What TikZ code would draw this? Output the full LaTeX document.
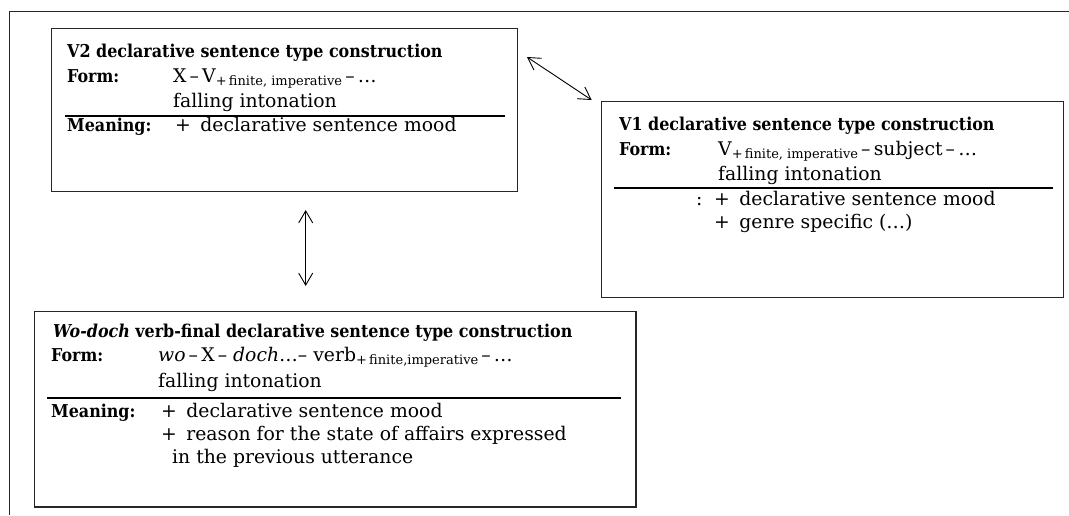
\documentclass[tikz,border=0pt]{standalone}
\usepackage{fontspec}
\setmainfont{DejaVu Serif}
\newfontfamily\hfont{DejaVu Serif Condensed}
\usetikzlibrary{arrows.meta,calc}
\newcommand\sbs[1]{\raisebox{-3pt}{\fontsize{13}{13}\selectfont #1}}
\tikzset{
  lbl/.style={anchor=base west, inner sep=0pt, font=\hfont\bfseries\fontsize{17.7}{20}\selectfont},
  txt/.style={anchor=base west, inner sep=0pt, font=\fontsize{18.8}{22}\selectfont},
  box/.style={draw=black!85, line width=1.1pt, inner sep=0pt, outer sep=0pt, anchor=north west},
  rulel/.style={line width=1.7pt},
  dbl/.style={{Straight Barb[length=12pt,width=14pt]}-{Straight Barb[length=12pt,width=14pt]}, line width=0.9pt},
  frame/.style={draw=black!85, line width=1pt}
}
\begin{document}
\begin{tikzpicture}[x=1pt,y=-1pt]
\useasboundingbox (0,0) rectangle (1069,515);
% open outer frame
\draw[frame] (1069,11) -- (9.3,11) -- (9.3,515);

% boxes
\node[box, minimum width=466pt, minimum height=163.4pt] (v2) at (51.7,28.3) {};
\node[box, minimum width=461.8pt, minimum height=196pt] (v1) at (601.7,101.7) {};
\node[box, minimum width=601.7pt, minimum height=195.3pt] (wd) at (34.3,311.7) {};

% separator rules
\draw[rulel] ([shift={(13.3,87.4)}]v2.north west) -- ([shift={(-12.7,87.4)}]v2.north east);
\draw[rulel] ([shift={(12.3,86)}]v1.north west) -- ([shift={(-10.5,86)}]v1.north east);
\draw[rulel] ([shift={(12.4,86)}]wd.north west) -- ([shift={(-15,86)}]wd.north east);

% V2 texts
\node[lbl] (v2t) at (67,57) {V2 declarative sentence type construction};
\node[lbl] (v2f) at (67,82) {Form:};
\node[txt] (v2fa) at (173,82) {X\,–\,V\sbs{+\,finite, imperative}\,–\,…};
\node[txt] (v2fb) at (173,107) {falling intonation};
\node[lbl] (v2m) at (67,131) {Meaning:};
\node[txt] (v2ma) at (175,131) {+\enspace declarative sentence mood};

% V1 texts
\node[lbl] (v1t) at (619,130) {V1 declarative sentence type construction};
\node[lbl] (v1f) at (619,155) {Form:};
\node[txt] (v1fa) at (718,155) {V\sbs{+\,finite, imperative}\,–\,subject\,–\,…};
\node[txt] (v1fb) at (718,180) {falling intonation};
\node[txt] (v1c) at (696,205) {:};
\node[txt] (v1ma) at (714,205) {+\enspace declarative sentence mood};
\node[txt] (v1mb) at (714,228) {+\enspace genre specific (…)};

% Wo-doch texts
\node[lbl] (wdt) at (53,337) {\itshape Wo-doch\upshape\ verb-final declarative sentence type construction};
\node[lbl] (wdf) at (51,361) {Form:};
\node[txt] (wdfa) at (158,361) {\textit{wo}\,–\,X\,– \textit{doch}…– verb\sbs{+\,finite,imperative}\,–\,…};
\node[txt] (wdfb) at (158,387) {falling intonation};
\node[lbl] (wdm) at (51,417) {Meaning:};
\node[txt] (wdma) at (161,417) {+\enspace declarative sentence mood};
\node[txt] (wdmb) at (161,440) {+\enspace reason for the state of affairs expressed};
\node[txt] (wdmc) at (172,463) {in the previous utterance};

% connectors
\draw[dbl] ([shift={(9.3,28.7)}]v2.north east) -- ([shift={(-10,-1.7)}]v1.north west);
\draw[dbl] ([shift={(254,18.3)}]v2.south west) -- ([shift={(271.4,-25.7)}]wd.north west);
\end{tikzpicture}
\end{document}
